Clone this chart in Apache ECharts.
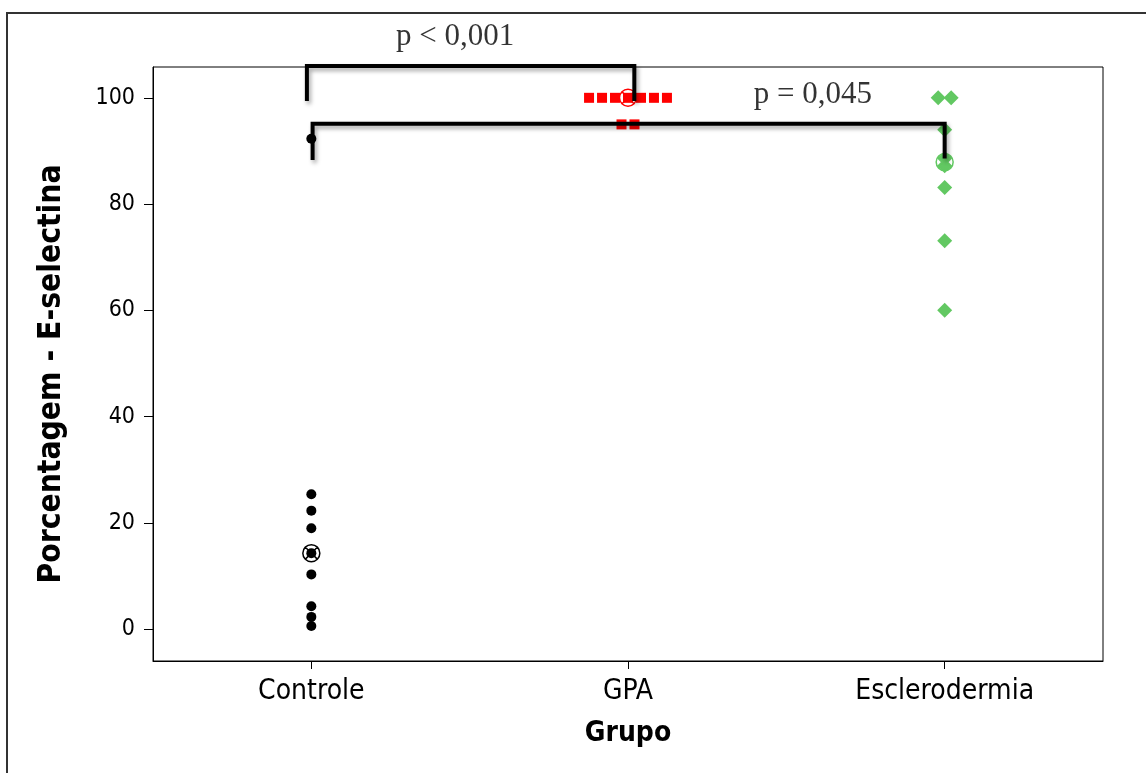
<!DOCTYPE html>
<html><head><meta charset="utf-8">
<script src="https://cdn.jsdelivr.net/npm/echarts@6/dist/echarts.min.js"></script>
<style>html,body{margin:0;padding:0;background:#fff}#c{width:1146px;height:773px}</style>
</head><body><div id="c"></div>
<script>
// ---- data ----
const categories = ['Controle', 'GPA', 'Esclerodermia'];
const controle = [92.3, 25.4, 22.3, 19.0, 14.3, 10.3, 4.3, 2.3, 0.6];
const gpa = [100, 100, 100, 100, 100, 100, 100, 95, 95];
const esclerodermia = [100, 100, 94.0, 88.6, 87.2, 83.1, 73.1, 60.0];
const yTicks = [0, 20, 40, 60, 80, 100];
const comparisons = [[0, 1], [0, 2]];
const pLabels = ['p < 0,001', 'p = 0,045'];
const bracketLevels = [106.0, 95.1];
const bracketEnds = [[99.4, 99.4], [88.3, 88.6]];

// ---- layout / style constants ----
const SPREAD = 0.041;
const legNudge = [[-0.014, 0.02], [0.004, 0.0]];
const pLabelX = [0.454, 1.584];
const colors = ['#000000', '#ff0000', '#62c862'];
const symbols = ['circle', 'rect', 'diamond'];
const sizes = [10, 10, 15];
const groups = [controle, gpa, esclerodermia];
const sansFont = '"DejaVu Sans Condensed", "DejaVu Sans", sans-serif';

function jitter(vals, g) {
  const counts = {}, seen = {};
  vals.forEach(v => counts[v] = (counts[v] || 0) + 1);
  return vals.map(v => {
    const k = seen[v] = (seen[v] === undefined ? 0 : seen[v] + 1);
    return [g + (k - (counts[v] - 1) / 2) * SPREAD, v];
  });
}
function median(vals) {
  const s = vals.slice().sort((a, b) => a - b), n = s.length;
  return n % 2 ? s[(n - 1) / 2] : (s[n / 2 - 1] + s[n / 2]) / 2;
}

const medianSymbol = 'path://M0,10A10,10 0 1,1 20,10A10,10 0 1,1 0,10Z M3,3L17,17M17,3L3,17';

const series = [];
groups.forEach((vals, g) => {
  series.push({
    type: 'scatter', z: 2,
    symbol: symbols[g], symbolSize: sizes[g],
    itemStyle: { color: colors[g], opacity: 1 },
    data: jitter(vals, g), silent: true
  });
});
series.push({
  type: 'scatter', z: 3, symbol: medianSymbol, symbolSize: 17, silent: true,
  data: groups.map((vals, g) => ({
    value: [g, median(vals)],
    itemStyle: { color: 'rgba(0,0,0,0)', borderColor: colors[g], borderWidth: 1.5, opacity: 1 }
  }))
});
comparisons.forEach(([a, b], i) => {
  const xa = a + legNudge[i][0], xb = b + legNudge[i][1];
  series.push({
    type: 'line', z: 5, clip: false, symbol: 'none', silent: true,
    lineStyle: { color: '#000', width: 4, join: 'miter', cap: 'butt',
      shadowColor: 'rgba(0,0,0,0.35)', shadowBlur: 4, shadowOffsetX: 2, shadowOffsetY: 3 },
    data: [[xa, bracketEnds[i][0]], [xa, bracketLevels[i]], [xb, bracketLevels[i]], [xb, bracketEnds[i][1]]]
  });
  series.push({
    type: 'scatter', z: 6, clip: false, symbolSize: 1, silent: true,
    itemStyle: { color: 'rgba(0,0,0,0)' },
    label: { show: true, position: 'inside', offset: [0, -29], formatter: pLabels[i],
      fontFamily: '"Liberation Serif", "Times New Roman", serif', fontSize: 31, color: '#000' },
    data: [[pLabelX[i], bracketLevels[i]]]
  });
});

const chart = echarts.init(document.getElementById('c'));
chart.setOption({
  animation: false,
  backgroundColor: '#fff',
  graphic: [{ type: 'rect', shape: { x: 7, y: 13, width: 1300, height: 900 },
    style: { fill: 'none', stroke: '#333', lineWidth: 2 }, silent: true, z: -1 }],
  grid: { left: 153, top: 67, width: 950, height: 594, show: true, borderColor: '#000', borderWidth: 1,
    backgroundColor: 'rgba(0,0,0,0)', outerBoundsMode: 'none' },
  xAxis: {
    type: 'value', min: -0.5, max: 2.5,
    name: 'Grupo', nameLocation: 'middle', nameGap: 59,
    nameTextStyle: { fontFamily: sansFont, fontWeight: 'bold', fontSize: 28, color: '#000' },
    axisLine: { show: true, onZero: false, lineStyle: { color: '#000', width: 1 } },
    axisTick: { show: true, inside: false, length: 8, customValues: [0, 1, 2], lineStyle: { color: '#000' } },
    axisLabel: { customValues: [0, 1, 2], formatter: v => categories[Math.round(v)], margin: 17,
      fontFamily: sansFont, fontSize: 28, color: '#000' },
    splitLine: { show: false }
  },
  yAxis: {
    type: 'value', min: -6, max: 105.8,
    name: 'Porcentagem - E-selectina', nameLocation: 'middle', nameGap: 85, nameRotate: 90,
    nameTextStyle: { fontFamily: sansFont, fontWeight: 'bold', fontSize: 31.5, color: '#000',
      padding: [0, 20, 0, 0] },
    axisLine: { show: true, onZero: false, lineStyle: { color: '#000', width: 1 } },
    axisTick: { show: true, inside: false, length: 9, customValues: yTicks, lineStyle: { color: '#000' } },
    axisLabel: { customValues: yTicks, margin: 18, fontFamily: sansFont, fontSize: 23, color: '#000' },
    splitLine: { show: false }
  },
  series: series
});
</script></body></html>
